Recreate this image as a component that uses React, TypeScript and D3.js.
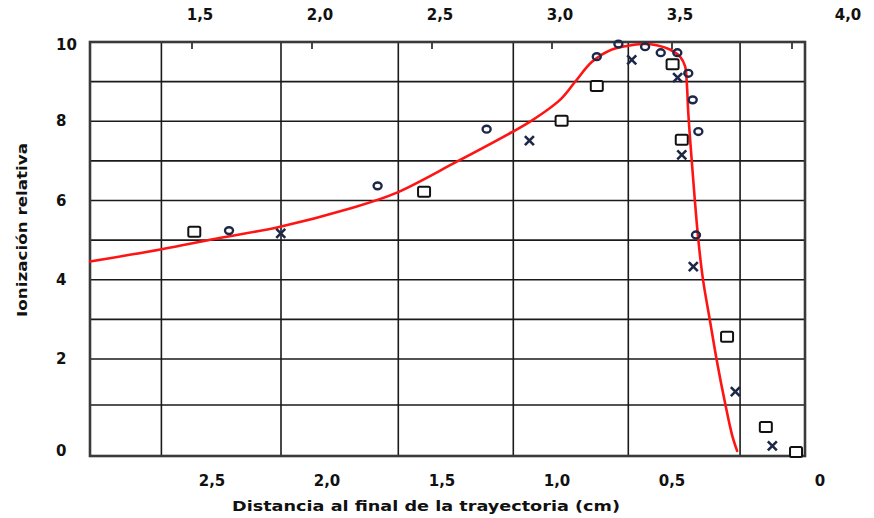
import React from 'react';
import * as d3 from 'd3';

const W = 874;
const H = 518;
const PLOT = { left: 90, right: 805, top: 42, bottom: 456 };

// Axis ticks
const bottomTicks = [2.5, 2.0, 1.5, 1.0, 0.5, 0];
const bottomTickLabels = ['2,5', '2,0', '1,5', '1,0', '0,5', '0'];
const topTicks = [1.5, 2.0, 2.5, 3.0, 3.5, 4.0];
const topTickLabels = ['1,5', '2,0', '2,5', '3,0', '3,5', '4,0'];
const yTicks = [10, 8, 6, 4, 2, 0];
const yTickLabels = ['10', '8', '6', '4', '2', '0'];
const yGrid = [1, 2, 3, 4, 5, 6, 7, 8, 9];
const xGrid = [2.72, 2.2, 1.69, 1.19, 0.69, 0.27];

// Red fitted curve (distance to end of track, relative ionization)
const curveDist = [3.03, 2.719, 2.496, 2.204, 1.9, 1.704, 1.436, 1.201, 1.117, 0.987, 0.922, 0.848, 0.77, 0.697, 0.626, 0.567, 0.509, 0.473, 0.456, 0.45, 0.445, 0.436, 0.412, 0.395, 0.372, 0.349, 0.32, 0.297, 0.28];
const curveIon = [4.46, 4.77, 5.02, 5.34, 5.8, 6.18, 6.98, 7.71, 7.99, 8.54, 8.99, 9.5, 9.79, 9.9, 9.95, 9.92, 9.81, 9.63, 9.39, 8.96, 8.21, 7.27, 5.08, 3.99, 2.98, 1.98, 1.02, 0.41, 0.1];

// Squares
const sqDist = [2.577, 1.578, 0.98, 0.827, 0.498, 0.467, 0.314, 0.183, 0.081];
const sqIon = [5.21, 6.22, 8.01, 8.89, 9.44, 7.53, 2.56, 0.57, 0.08];

// Circles
const ciDist = [2.426, 1.78, 1.306, 0.827, 0.733, 0.617, 0.549, 0.482, 0.445, 0.43, 0.411, 0.419];
const ciIon = [5.24, 6.37, 7.8, 9.63, 9.95, 9.88, 9.73, 9.73, 9.21, 8.54, 7.74, 5.13];

// Crosses
const crDist = [2.201, 1.12, 0.675, 0.481, 0.467, 0.428, 0.286, 0.161];
const crIon = [5.17, 7.51, 9.55, 9.1, 7.15, 4.33, 1.29, 0.2];

const FONT = '"DejaVu Sans", "Liberation Sans", Arial, sans-serif';

export default function App() {
  const x = d3.scaleLinear().domain([2.5, 0.5, 0]).range([212, 672, 820]);
  const xTop = d3.scaleLinear().domain([1.5, 3.5, 4.0]).range([200, 680, 848]);
  const xTopTick = d3.scaleLinear().domain([1.5, 4.0]).range([192, 792]);
  const y = d3.scaleLinear().domain([0, 1, 2, 10]).range([456, 405, 359, 42]);

  const line = d3
    .line<number>()
    .x((_, i) => x(curveDist[i]))
    .y((_, i) => y(curveIon[i]))
    .curve(d3.curveCatmullRom.alpha(0.5));

  const markColor = '#1d2747';

  return (
    <svg
      width={W}
      height={H}
      viewBox={`0 0 ${W} ${H}`}
      style={{ position: 'absolute', left: 0, top: 0, background: '#fff' }}
    >
      <rect x={0} y={0} width={W} height={H} fill="#fff" />

      {/* horizontal grid */}
      {yGrid.map((v) => (
        <line key={'hy' + v} x1={PLOT.left} x2={PLOT.right} y1={y(v)} y2={y(v)} stroke="#1a1a1a" strokeWidth={1.6} />
      ))}
      {/* vertical grid */}
      {xGrid.map((v) => (
        <line key={'vx' + v} x1={x(v)} x2={x(v)} y1={PLOT.top} y2={PLOT.bottom} stroke="#1a1a1a" strokeWidth={1.6} />
      ))}
      {/* top ticks */}
      {topTicks.map((v) => (
        <line key={'tt' + v} x1={xTopTick(v)} x2={xTopTick(v)} y1={PLOT.top} y2={PLOT.top + 7} stroke="#1a1a1a" strokeWidth={1.6} />
      ))}

      {/* frame */}
      <rect
        x={PLOT.left}
        y={PLOT.top}
        width={PLOT.right - PLOT.left}
        height={PLOT.bottom - PLOT.top}
        fill="none"
        stroke="#3a3a3a"
        strokeWidth={2.6}
      />

      {/* red curve */}
      <path d={line(curveDist) || ''} fill="none" stroke="#ff1414" strokeWidth={2.6} strokeLinejoin="round" strokeLinecap="round" />

      {/* squares */}
      {sqDist.map((d, i) => (
        <rect
          key={'sq' + i}
          x={x(d) - 6}
          y={y(sqIon[i]) - 5}
          width={12}
          height={10}
          rx={1.5}
          fill="#fff"
          stroke="#111"
          strokeWidth={2}
        />
      ))}
      {/* circles */}
      {ciDist.map((d, i) => (
        <ellipse
          key={'ci' + i}
          cx={x(d)}
          cy={y(ciIon[i])}
          rx={4}
          ry={3.4}
          fill="none"
          stroke={markColor}
          strokeWidth={2.4}
        />
      ))}
      {/* crosses */}
      {crDist.map((d, i) => {
        const cx = x(d);
        const cy = y(crIon[i]);
        return (
          <path
            key={'cr' + i}
            d={`M${cx - 4.5},${cy - 4.5}L${cx + 4.5},${cy + 4.5}M${cx + 4.5},${cy - 4.5}L${cx - 4.5},${cy + 4.5}`}
            stroke={markColor}
            strokeWidth={2.6}
            fill="none"
          />
        );
      })}

      {/* y tick labels */}
      {yTicks.map((v, i) => {
        const cy = Math.min(Math.max(y(v), PLOT.top + 3), PLOT.bottom - 5);
        return (
          <text
            key={'yl' + v}
            x={56}
            y={cy}
            dominantBaseline="central"
            fontFamily={FONT}
            fontWeight="bold"
            fontSize={15}
            fill="#111"
          >
            {yTickLabels[i]}
          </text>
        );
      })}

      {/* bottom tick labels */}
      {bottomTicks.map((v, i) => (
        <text
          key={'bl' + v}
          x={x(v)}
          y={481}
          textAnchor="middle"
          dominantBaseline="central"
          fontFamily={FONT}
          fontWeight="bold"
          fontSize={15}
          fill="#111"
        >
          {bottomTickLabels[i]}
        </text>
      ))}

      {/* top tick labels */}
      {topTicks.map((v, i) => (
        <text
          key={'tl' + v}
          x={xTop(v)}
          y={15}
          textAnchor="middle"
          dominantBaseline="central"
          fontFamily={FONT}
          fontWeight="bold"
          fontSize={15}
          fill="#111"
        >
          {topTickLabels[i]}
        </text>
      ))}

      {/* axis titles */}
      <text
        x={426}
        y={506}
        textAnchor="middle"
        dominantBaseline="central"
        fontFamily={FONT}
        fontWeight="bold"
        fontSize={14}
        fill="#111"
        textLength={388}
        lengthAdjust="spacingAndGlyphs"
      >
        Distancia al final de la trayectoria (cm)
      </text>
      <text
        transform="translate(22,230) rotate(-90)"
        textAnchor="middle"
        dominantBaseline="central"
        fontFamily={FONT}
        fontWeight="bold"
        fontSize={14}
        fill="#111"
        textLength={174}
        lengthAdjust="spacingAndGlyphs"
      >
        Ionización relativa
      </text>
    </svg>
  );
}
